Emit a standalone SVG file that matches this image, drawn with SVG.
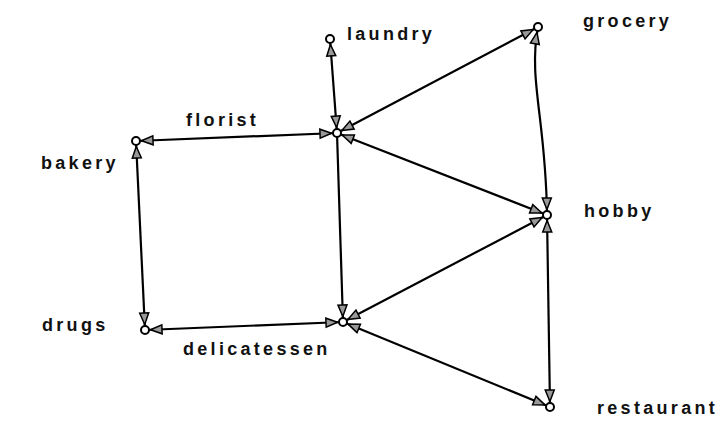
<svg xmlns="http://www.w3.org/2000/svg" width="724" height="423" viewBox="0 0 724 423">
<style>
.e{fill:none;stroke:#000;stroke-width:2.2;marker-start:url(#a);marker-end:url(#a)}
.e1{fill:none;stroke:#000;stroke-width:2.2;marker-end:url(#a)}
.n{fill:#fff;stroke:#000;stroke-width:2}
.t{font-family:"Liberation Sans",Arial,sans-serif;font-weight:bold;font-size:18px;letter-spacing:3.3px;fill:#111}
</style>
<defs>
<marker id="a" markerUnits="userSpaceOnUse" viewBox="-20 -6 22 12" refX="0" refY="0" markerWidth="22" markerHeight="12" orient="auto-start-reverse" overflow="visible">
<path d="M-5.5,0 L-17,-4.5 L-17,4.5 Z" fill="#999" stroke="#000" stroke-width="1.5" stroke-linejoin="miter"/>
</marker>
</defs>
<g id="connectors">
<line class="e" x1="330" y1="39" x2="337" y2="133"/>
<line class="e" x1="538" y1="27" x2="337" y2="133"/>
<path class="e" d="M538,27 C528,80 546,120 547,215"/>
<line class="e" x1="337" y1="133" x2="136" y2="141"/>
<line class="e" x1="337" y1="133" x2="547" y2="215"/>
<line class="e1" x1="337" y1="133" x2="343" y2="322"/>
<line class="e" x1="136" y1="141" x2="145" y2="330"/>
<line class="e" x1="145" y1="330" x2="343" y2="322"/>
<line class="e" x1="547" y1="215" x2="343" y2="322"/>
<line class="e" x1="547" y1="215" x2="550" y2="407"/>
<line class="e" x1="343" y1="322" x2="550" y2="407"/>
</g>
<g id="laundry"><circle class="n" cx="330" cy="39" r="4"/><text class="t" x="347" y="40">laundry</text></g>
<g id="grocery"><circle class="n" cx="538" cy="27" r="4"/><text class="t" x="583" y="27">grocery</text></g>
<g id="florist"><circle class="n" cx="337" cy="133" r="4"/><text class="t" x="186" y="126">florist</text></g>
<g id="bakery"><circle class="n" cx="136" cy="141" r="4"/><text class="t" x="41" y="169">bakery</text></g>
<g id="hobby"><circle class="n" cx="547" cy="215" r="4"/><text class="t" x="584" y="217">hobby</text></g>
<g id="drugs"><circle class="n" cx="145" cy="330" r="4"/><text class="t" x="42" y="331">drugs</text></g>
<g id="delicatessen"><circle class="n" cx="343" cy="322" r="4"/><text class="t" x="183" y="355">delicatessen</text></g>
<g id="restaurant"><circle class="n" cx="550" cy="407" r="4"/><text class="t" x="597" y="414">restaurant</text></g>
</svg>
